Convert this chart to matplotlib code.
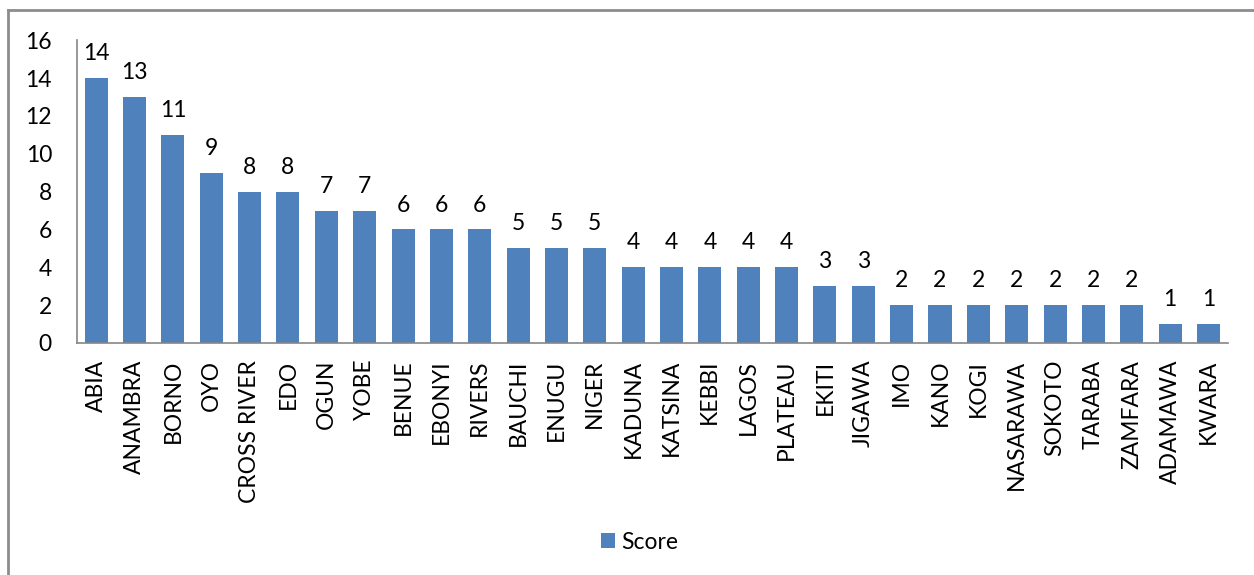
import matplotlib.pyplot as plt
from matplotlib.lines import Line2D

states = ['ABIA', 'ANAMBRA', 'BORNO', 'OYO', 'CROSS RIVER', 'EDO', 'OGUN', 'YOBE',
          'BENUE', 'EBONYI', 'RIVERS', 'BAUCHI', 'ENUGU', 'NIGER', 'KADUNA', 'KATSINA',
          'KEBBI', 'LAGOS', 'PLATEAU', 'EKITI', 'JIGAWA', 'IMO', 'KANO', 'KOGI',
          'NASARAWA', 'SOKOTO', 'TARABA', 'ZAMFARA', 'ADAMAWA', 'KWARA']
scores = [14, 13, 11, 9, 8, 8, 7, 7, 6, 6, 6, 5, 5, 5, 4, 4, 4, 4, 4, 3, 3,
          2, 2, 2, 2, 2, 2, 2, 1, 1]

plt.rcParams['font.family'] = ['Lato', 'DejaVu Sans']
bar_color = '#4F81BD'
axis_gray = '#868686'
fs = 16.5

fig = plt.figure(figsize=(12.54, 5.75), dpi=100)
ax = fig.add_axes([0.0614, 0.4035, 0.9176, 0.5265])

x = range(len(states))
bars = ax.bar(x, scores, width=0.6, color=bar_color, label='Score')
for b, v in zip(bars, scores):
    ax.annotate(str(v), (b.get_x() + b.get_width() / 2, v), xytext=(0, 10),
                textcoords='offset points', ha='center', va='bottom', fontsize=fs,
                annotation_clip=False)

ax.set_xlim(-0.5, len(states) - 0.5)
ax.set_ylim(0, 16)
ax.set_yticks(range(0, 17, 2))
ax.set_xticks(list(x))
ax.set_xticklabels(states, rotation=90, fontsize=fs)
ax.tick_params(axis='both', length=0, labelsize=fs)
ax.tick_params(axis='y', pad=18)
ax.tick_params(axis='x', pad=12)
for s in ['top', 'right']:
    ax.spines[s].set_visible(False)
for s in ['left', 'bottom']:
    ax.spines[s].set_color(axis_gray)
    ax.spines[s].set_linewidth(1.2)

ax.legend(loc='center', bbox_to_anchor=(0.51, 0.057), bbox_transform=fig.transFigure,
          frameon=False, fontsize=fs, handlelength=0.6, handleheight=0.6,
          handletextpad=0.25)

# chart frame: top and left edges only
fig.add_artist(Line2D([8 / 1254, 1.0], [1 - 10 / 575] * 2, color='#8c8c8c', lw=2))
fig.add_artist(Line2D([8 / 1254] * 2, [0, 1 - 10 / 575], color='#8c8c8c', lw=2))

fig.savefig('out.png', dpi=100)
